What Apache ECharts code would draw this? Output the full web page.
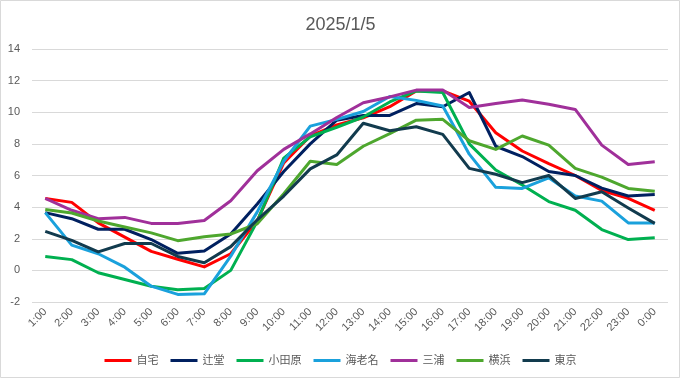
<!DOCTYPE html>
<html>
<head>
<meta charset="utf-8">
<script src="https://cdn.jsdelivr.net/npm/echarts@6/dist/echarts.min.js"></script>
<style>
html,body{margin:0;padding:0;background:#fff;}
#chart{width:681px;height:379px;}
</style>
</head>
<body>
<div id="chart"></div>
<script>
const title = '2025/1/5';
const categories = ['1:00','2:00','3:00','4:00','5:00','6:00','7:00','8:00','9:00','10:00','11:00','12:00','13:00','14:00','15:00','16:00','17:00','18:00','19:00','20:00','21:00','22:00','23:00','0:00'];
const seriesNames = ['自宅','辻堂','小田原','海老名','三浦','横浜','東京'];
const jitaku   = [4.55, 4.3, 3.0, 2.1, 1.2, 0.7, 0.22, 1.05, 3.15, 6.8, 8.5, 9.2, 9.65, 10.35, 11.35, 11.35, 10.7, 8.7, 7.55, 6.75, 6.0, 5.05, 4.55, 3.8];
const tsujido  = [3.65, 3.27, 2.6, 2.6, 1.95, 1.08, 1.22, 2.3, 4.2, 6.25, 8.0, 9.5, 9.8, 9.8, 10.55, 10.35, 11.25, 7.85, 7.2, 6.25, 6.0, 5.2, 4.7, 4.8];
const odawara  = [0.88, 0.68, -0.15, -0.58, -1.0, -1.22, -1.15, 0.0, 3.1, 7.1, 8.45, 9.05, 9.7, 10.65, 11.35, 11.25, 8.0, 6.35, 5.4, 4.35, 3.8, 2.58, 1.95, 2.07];
const ebina    = [3.65, 1.6, 1.05, 0.2, -1.0, -1.52, -1.48, 0.9, 3.7, 6.9, 9.12, 9.55, 10.05, 11.0, 10.75, 10.4, 7.35, 5.25, 5.18, 5.85, 4.7, 4.38, 3.0, 3.0];
const miura    = [4.55, 3.8, 3.27, 3.35, 2.97, 2.97, 3.15, 4.4, 6.3, 7.65, 8.63, 9.67, 10.6, 10.97, 11.4, 11.4, 10.3, 10.55, 10.77, 10.5, 10.18, 7.92, 6.7, 6.87];
const yokohama = [3.85, 3.63, 3.12, 2.74, 2.37, 1.88, 2.12, 2.3, 2.95, 4.85, 6.9, 6.7, 7.85, 8.65, 9.5, 9.55, 8.2, 7.65, 8.5, 7.92, 6.45, 5.9, 5.18, 5.0];
const tokyo    = [2.47, 1.9, 1.17, 1.7, 1.7, 0.88, 0.48, 1.5, 3.2, 4.7, 6.42, 7.3, 9.3, 8.83, 9.08, 8.6, 6.45, 6.08, 5.55, 6.0, 4.55, 4.97, 3.95, 2.97];
const colors = ['#FF0000','#002060','#00B050','#1AA1DC','#A0309A','#4EA72E','#123B4E'];
const allData = [jitaku, tsujido, odawara, ebina, miura, yokohama, tokyo];

const font = '"Liberation Sans", "Noto Sans CJK JP", sans-serif';
const chart = echarts.init(document.getElementById('chart'));
chart.setOption({
  animation: false,
  backgroundColor: '#fff',
  color: colors,
  title: {
    text: title,
    left: 'center',
    top: 11,
    textStyle: {color: '#595959', fontSize: 18, fontWeight: 'normal', fontFamily: font}
  },
  grid: {left: 32, right: 13, top: 49, bottom: 77, containLabel: false},
  xAxis: {
    type: 'category',
    data: categories,
    boundaryGap: true,
    axisLine: {show: false},
    axisTick: {show: false},
    axisLabel: {rotate: 45, color: '#595959', fontSize: 11, fontFamily: font, margin: 8, interval: 0}
  },
  yAxis: {
    type: 'value',
    min: -2, max: 14, interval: 2,
    axisLine: {show: false},
    axisTick: {show: false},
    axisLabel: {color: '#595959', fontSize: 11, fontFamily: font, margin: 12},
    splitLine: {lineStyle: {color: '#D9D9D9', width: 1}}
  },
  legend: {
    bottom: 8,
    left: 'center',
    icon: 'rect',
    itemWidth: 27,
    itemHeight: 3,
    itemGap: 12,
    textStyle: {color: '#595959', fontSize: 11, fontFamily: font},
    data: seriesNames
  },
  graphic: [{
    type: 'rect',
    shape: {x: 0.5, y: 0.5, width: 679, height: 377},
    style: {fill: 'none', stroke: '#D9D9D9', lineWidth: 1},
    silent: true
  }],
  series: seriesNames.map((n, i) => ({
    name: n,
    type: 'line',
    data: allData[i],
    showSymbol: false,
    symbol: 'none',
    lineStyle: {width: 3, color: colors[i], join: 'round'},
    itemStyle: {color: colors[i]}
  }))
});
</script>
</body>
</html>
